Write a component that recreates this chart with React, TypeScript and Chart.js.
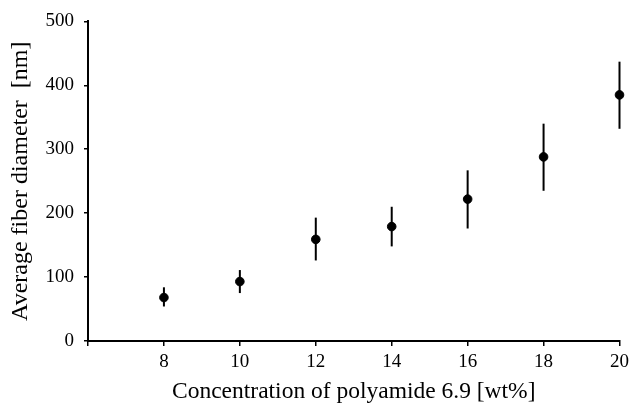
import React, { useEffect, useRef } from "react";
import { Chart, registerables } from "chart.js";

Chart.register(...registerables);

const concentrations = [8, 10, 12, 14, 16, 18, 20];
const meanDiameter = [68, 93, 159, 179, 222, 288, 385];
const errLow = [54, 75, 126, 148, 176, 235, 332];
const errHigh = [84, 111, 193, 210, 267, 340, 437];

const xTitle = "Concentration of polyamide 6.9 [wt%]";
const yTitle = "Average fiber diameter  [nm]";

const errorBarPlugin = {
  id: "errorBars",
  beforeDatasetsDraw(chart: any) {
    const { ctx, scales } = chart;
    const xs = scales.x;
    const ys = scales.y;
    ctx.save();
    ctx.strokeStyle = "#000";
    ctx.lineWidth = 2;
    concentrations.forEach((c, i) => {
      const px = xs.getPixelForValue(c);
      ctx.beginPath();
      ctx.moveTo(px, ys.getPixelForValue(errLow[i]));
      ctx.lineTo(px, ys.getPixelForValue(errHigh[i]));
      ctx.stroke();
    });
    ctx.restore();
  },
};

export default function App() {
  const ref = useRef<HTMLCanvasElement>(null);
  useEffect(() => {
    const font = "'Liberation Serif', 'Times New Roman', serif";
    const chart = new Chart(ref.current!, {
      type: "scatter",
      data: {
        datasets: [
          {
            data: concentrations.map((c, i) => ({ x: c, y: meanDiameter[i] })),
            backgroundColor: "#000",
            borderColor: "#000",
            pointRadius: 4.3,
            pointHoverRadius: 4.3,
            clip: false,
          },
        ],
      },
      options: {
        animation: false,
        responsive: false,
        maintainAspectRatio: false,
        layout: { padding: { top: 20, right: 13, left: 0, bottom: 0 } },
        plugins: { legend: { display: false }, tooltip: { enabled: false } },
        scales: {
          x: {
            type: "linear",
            min: 6,
            max: 20,
            afterFit: (s: any) => {
              s.height = 63;
            },
            ticks: {
              stepSize: 2,
              color: "#000",
              font: { family: font, size: 19 },
              padding: 5,
              callback: (v: any) => (v === 6 ? "" : String(v)),
            },
            grid: {
              drawOnChartArea: false,
              drawTicks: true,
              tickLength: 5,
              color: "#000",
              lineWidth: 1.5,
            },
            border: { display: true, color: "#000", width: 2 },
            title: {
              display: true,
              text: xTitle,
              color: "#000",
              font: { family: font, size: 23.5 },
              padding: { top: 0, bottom: -2 },
            },
          },
          y: {
            type: "linear",
            min: 0,
            max: 500,
            afterFit: (s: any) => {
              s.width = 88;
            },
            ticks: {
              stepSize: 100,
              color: "#000",
              font: { family: font, size: 19 },
              padding: 10,
            },
            grid: {
              drawOnChartArea: false,
              drawTicks: true,
              tickLength: 4,
              color: "#000",
              lineWidth: 1.5,
            },
            border: { display: true, color: "#000", width: 2 },
            title: {
              display: true,
              text: yTitle,
              color: "#000",
              font: { family: font, size: 24 },
              padding: { top: 6, bottom: 0 },
            },
          },
        },
      },
      plugins: [errorBarPlugin],
    } as any);
    return () => chart.destroy();
  }, []);
  return (
    <div style={{ position: "fixed", left: 0, top: 0, width: 634, height: 404, background: "#fff" }}>
      <canvas ref={ref} width={634} height={404} style={{ width: 634, height: 404 }} />
    </div>
  );
}
